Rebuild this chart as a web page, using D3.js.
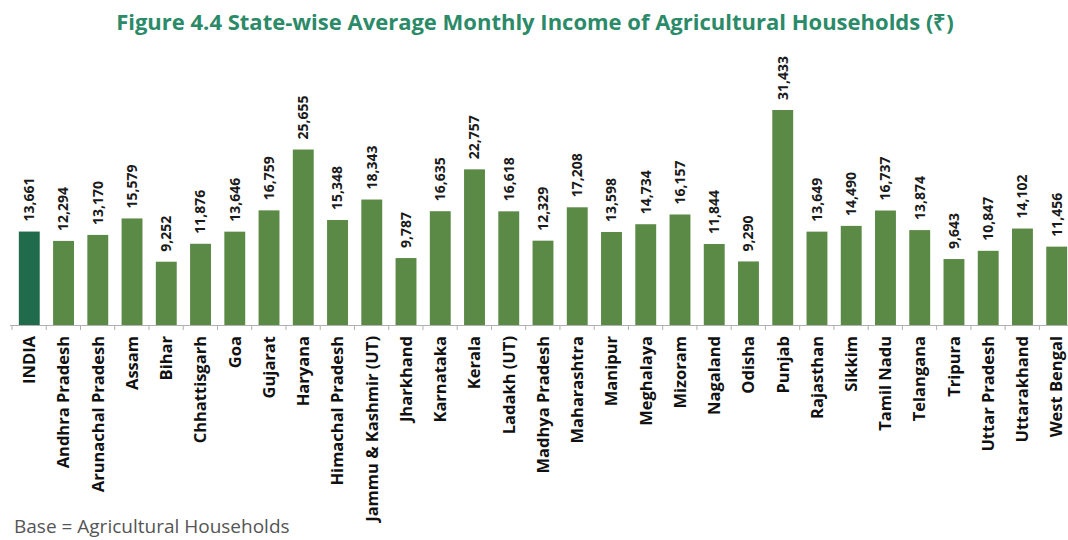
<!DOCTYPE html>
<html>
  <head>
    <meta charset="utf-8">
    <title>State-wise Average Monthly Income</title>
    <style>
      body { margin: 0; background: #fff; }
      .title { font-family: "Open Sans", sans-serif; font-weight: 700; font-size: 22px; fill: #2b8a68; }
      .val { font-family: "Open Sans", sans-serif; font-weight: 700; font-size: 14px; fill: #1a1a1a; }
      .cat { font-family: "Open Sans", sans-serif; font-weight: 700; font-size: 16.5px; fill: #111; }
      .note { font-family: "Open Sans", sans-serif; font-size: 19px; fill: #555; }
    </style>
  </head>
  <body>
    <div id="chart"></div>
    <script src="https://d3js.org/d3.v7.min.js"></script>
    <script>
      // data
      var states = ['INDIA', 'Andhra Pradesh', 'Arunachal Pradesh', 'Assam', 'Bihar',
        'Chhattisgarh', 'Goa', 'Gujarat', 'Haryana', 'Himachal Pradesh',
        'Jammu & Kashmir (UT)', 'Jharkhand', 'Karnataka', 'Kerala', 'Ladakh (UT)',
        'Madhya Pradesh', 'Maharashtra', 'Manipur', 'Meghalaya', 'Mizoram',
        'Nagaland', 'Odisha', 'Punjab', 'Rajasthan', 'Sikkim', 'Tamil Nadu',
        'Telangana', 'Tripura', 'Uttar Pradesh', 'Uttarakhand', 'West Bengal'];
      var income = [13661, 12294, 13170, 15579, 9252, 11876, 13646, 16759, 25655, 15348,
        18343, 9787, 16635, 22757, 16618, 12329, 17208, 13598, 14734, 16157,
        11844, 9290, 31433, 13649, 14490, 16737, 13874, 9643, 10847, 14102, 11456];

      var width = 1068, height = 540;
      var baseY = 325;

      var svg = d3.select('#chart').append('svg')
        .attr('width', width)
        .attr('height', height);

      svg.append('text')
        .attr('class', 'title')
        .attr('x', 535)
        .attr('y', 30)
        .attr('text-anchor', 'middle')
        .text('Figure 4.4 State-wise Average Monthly Income of Agricultural Households (₹)');

      var x = d3.scaleBand()
        .domain(states)
        .range([12, 1074])
        .paddingInner(0.39)
        .paddingOuter(0.2);

      var y = d3.scaleLinear()
        .domain([0, 35000])
        .range([baseY, 85.6]);

      // bars
      svg.selectAll('rect.bar')
        .data(states)
        .enter()
        .append('rect')
        .attr('class', 'bar')
        .attr('x', function(d) { return x(d); })
        .attr('y', function(d, i) { return y(income[i]); })
        .attr('width', x.bandwidth())
        .attr('height', function(d, i) { return baseY - y(income[i]); })
        .attr('fill', function(d) { return d == 'INDIA' ? '#206b4c' : '#5b8946'; });

      // axis line + ticks between bars
      var step = x.step();
      svg.append('line')
        .attr('x1', 10).attr('x2', width)
        .attr('y1', baseY + 0.5).attr('y2', baseY + 0.5)
        .attr('stroke', '#b0b0b0');
      svg.selectAll('line.tick')
        .data(d3.range(states.length + 1))
        .enter()
        .append('line')
        .attr('class', 'tick')
        .attr('x1', function(i) { return 12 + i * step; })
        .attr('x2', function(i) { return 12 + i * step; })
        .attr('y1', baseY)
        .attr('y2', baseY + 5)
        .attr('stroke', '#b0b0b0');

      // value labels
      svg.selectAll('text.val')
        .data(states)
        .enter()
        .append('text')
        .attr('class', 'val')
        .attr('transform', function(d, i) {
          return 'translate(' + (x(d) + x.bandwidth() / 2) + ',' + (y(income[i]) - 10) + ') rotate(-90)';
        })
        .attr('dy', '0.35em')
        .text(function(d, i) { return d3.format(',')(income[i]); });

      // category labels
      svg.selectAll('text.cat')
        .data(states)
        .enter()
        .append('text')
        .attr('class', 'cat')
        .attr('transform', function(d) {
          return 'translate(' + (x(d) + x.bandwidth() / 2) + ',' + (baseY + 11) + ') rotate(-90)';
        })
        .attr('text-anchor', 'end')
        .attr('dy', '0.35em')
        .text(function(d) { return d; });

      svg.append('text')
        .attr('class', 'note')
        .attr('x', 14)
        .attr('y', 533)
        .text('Base = Agricultural Households');
    </script>
  </body>
</html>
